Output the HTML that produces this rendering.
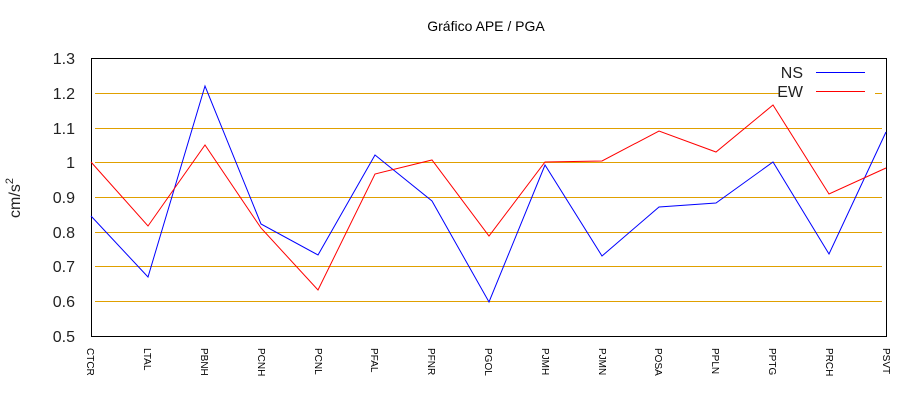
<!DOCTYPE html><html><head><style>body{margin:0;background:#fff}</style></head><body>
<svg width="920" height="400" xmlns="http://www.w3.org/2000/svg" font-family="Liberation Sans, sans-serif">
<rect width="920" height="400" fill="#fff"/>
<text x="486" y="31" font-size="14" text-anchor="middle">Gráfico  APE / PGA</text>
<g stroke="#e0a000" stroke-width="1">
<line x1="95" y1="93.5" x2="780" y2="93.5"/><line x1="875" y1="93.5" x2="882" y2="93.5"/>
<line x1="95" y1="128.5" x2="882" y2="128.5"/>
<line x1="95" y1="162.5" x2="882" y2="162.5"/>
<line x1="95" y1="197.5" x2="882" y2="197.5"/>
<line x1="95" y1="232.5" x2="882" y2="232.5"/>
<line x1="95" y1="266.5" x2="882" y2="266.5"/>
<line x1="95" y1="301.5" x2="882" y2="301.5"/>
</g>
<rect x="91.5" y="58.5" width="795" height="278" fill="none" stroke="#000"/>
<g font-size="16" text-anchor="end" fill="#222">
<text x="75" y="64">1.3</text><text x="75" y="99">1.2</text><text x="75" y="134">1.1</text><text x="75" y="168">1</text><text x="75" y="203">0.9</text><text x="75" y="238">0.8</text><text x="75" y="272">0.7</text><text x="75" y="307">0.6</text><text x="75" y="342">0.5</text>
</g>
<text transform="translate(20,198) rotate(-90)" font-size="16" text-anchor="middle" fill="#222">cm/s<tspan font-size="11" dy="-7">2</tspan></text>
<g font-size="10" fill="#000">
<text transform="translate(87,348) rotate(90)">CTCR</text>
<text transform="translate(144,348) rotate(90)">LTAL</text>
<text transform="translate(201,348) rotate(90)">PBNH</text>
<text transform="translate(258,348) rotate(90)">PCNH</text>
<text transform="translate(315,348) rotate(90)">PCNL</text>
<text transform="translate(371,348) rotate(90)">PFAL</text>
<text transform="translate(428,348) rotate(90)">PFNR</text>
<text transform="translate(485,348) rotate(90)">PGOL</text>
<text transform="translate(542,348) rotate(90)">PJMH</text>
<text transform="translate(599,348) rotate(90)">PJMN</text>
<text transform="translate(655,348) rotate(90)">POSA</text>
<text transform="translate(712,348) rotate(90)">PPLN</text>
<text transform="translate(769,348) rotate(90)">PPTG</text>
<text transform="translate(826,348) rotate(90)">PRCH</text>
<text transform="translate(883,348) rotate(90)">PSVT</text>
</g>
<polyline fill="none" stroke="#00f" stroke-width="1" points="91,216 148,277 205,86 261,224 318,255 375,155 432,201 489,302 545,165 602,256 659,207 716,203 773,162 829,254 886,132"/>
<polyline fill="none" stroke="#f00" stroke-width="1" points="91,162 148,226 205,145 261,228 318,290 375,174 432,160 489,236 545,162 602,161 659,131 716,152 773,105 829,194 886,168"/>
<g font-size="16" text-anchor="end" fill="#222"><text x="803" y="78">NS</text><text x="803" y="97">EW</text></g>
<line x1="816" y1="72.5" x2="865" y2="72.5" stroke="#00f"/>
<line x1="816" y1="91.5" x2="865" y2="91.5" stroke="#f00"/>
</svg></body></html>
